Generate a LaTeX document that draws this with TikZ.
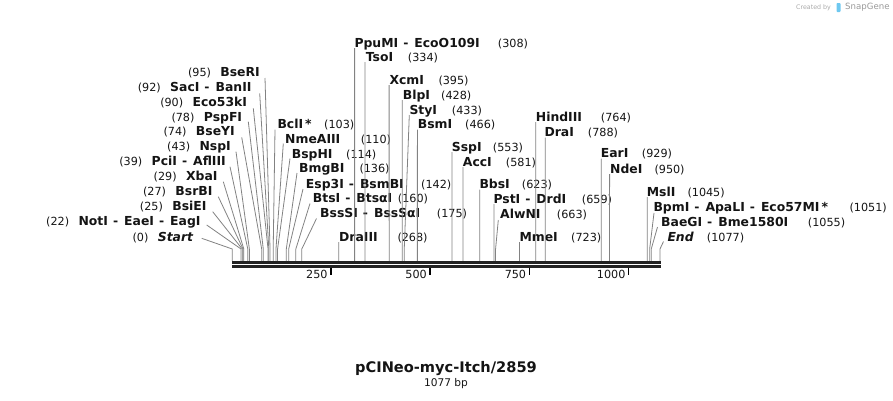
\documentclass[tikz,border=0pt]{standalone}
\usepackage{fontspec}
\setmainfont{DejaVu Sans}
\definecolor{linegray}{RGB}{130,130,130}
\definecolor{bardark}{RGB}{34,34,34}
\definecolor{txt}{RGB}{20,20,20}
\definecolor{wmgray}{RGB}{170,170,170}
\definecolor{wmblue}{RGB}{110,200,240}
\newcommand\dsh{\hspace{5pt}-\hspace{6pt}}
\tikzset{
  nm/.style={font=\bfseries\fontsize{12.4}{14}\selectfont, inner sep=0pt, text=txt},
  num/.style={font=\fontsize{11.2}{13}\selectfont, inner sep=0pt, text=txt},
  cutline/.style={draw=linegray, line width=0.8pt},
  barline/.style={draw=bardark, line width=2.7pt},
  tickline/.style={draw=black, line width=1.6pt},
  ticklab/.style={font=\fontsize{11.2}{13}\selectfont, inner sep=0pt, anchor=base east, text=txt}
}
\newcommand\lcut[8]{%
  \pgfmathsetmacro\cx{232.3+0.3971*#2}%
  \node[nm,anchor=base east] (#1) at (#3,#4+4.5) {#5};
  \node[num,anchor=base east] (#1n) at ([xshift=-9pt]#1.base west) {#6};
  \coordinate (#1a) at (#7,#8);
  \coordinate (#1b) at (\cx,249);
  \coordinate (#1c) at (\cx,261);
  \draw[cutline] (#1a) -- (#1b) -- (#1c);
}
\newcommand\rcut[9]{%
  \pgfmathsetmacro\cx{232.3+0.3971*#2}%
  \node[nm,anchor=base west] (#1) at (#3,#4+4.5) {#5};
  \node[num,anchor=base west] (#1n) at (#6,#4+4.5) {#7};
  \coordinate (#1a) at (#8,#9);
  \coordinate (#1b) at (\cx,249);
  \coordinate (#1c) at (\cx,261);
  \draw[cutline] (#1a) -- (#1b) -- (#1c);
}
\newcommand\rtick[1]{%
  \pgfmathsetmacro\tx{232.3+0.3971*#1-0.8}%
  \coordinate (t#1a) at (\tx,267.5);
  \coordinate (t#1b) at (\tx,275);
  \draw[tickline] (t#1a) -- (t#1b);
  \node[ticklab] (tl#1) at (\tx-3,278.5) {#1};
}
\begin{document}
\begin{tikzpicture}[x=1pt,y=-1pt]
\useasboundingbox (0,0) rectangle (893,400);
% left labels
\lcut{bseri}{95}{260}{72.3}{BseRI}{(95)}{265}{78}
\lcut{saci}{92}{251.7}{86.7}{SacI\dsh BanII}{(92)}{259.7}{93.3}
\lcut{ecofl}{90}{247.3}{101.7}{Eco53kI}{(90)}{253.3}{108.3}
\lcut{pspfi}{78}{242.3}{116.7}{PspFI}{(78)}{248.3}{121.7}
\lcut{bseyi}{74}{235}{131.3}{BseYI}{(74)}{241.7}{137.3}
\lcut{nspi}{43}{231}{146}{NspI}{(43)}{236}{151.7}
\lcut{pcii}{39}{226}{161}{PciI\dsh AflIII}{(39)}{230}{166.7}
\lcut{xbai}{29}{217.7}{176}{XbaI}{(29)}{223.3}{181.7}
\lcut{bsrbi}{27}{212.7}{191}{BsrBI}{(27)}{218.3}{196.7}
\lcut{bsiei}{25}{206.7}{206}{BsiEI}{(25)}{212.7}{211.7}
\lcut{noti}{22}{200.7}{221}{NotI\dsh EaeI\dsh EagI}{(22)}{206.7}{225}
\lcut{start}{0}{193.3}{236.7}{\itshape Start}{(0)}{201.7}{238.3}
% right labels
\rcut{bcli}{103}{277.3}{124.3}{BclI\,*}{324}{(103)}{275}{129.5}
\rcut{nme}{110}{285}{139}{NmeAIII}{360.7}{(110)}{283.3}{143.5}
\rcut{bsphi}{114}{291.7}{154}{BspHI}{346}{(114)}{290}{158.5}
\rcut{bmgbi}{136}{299}{168.3}{BmgBI}{359.3}{(136)}{297}{173}
\rcut{espi}{142}{305.7}{184.3}{Esp3I\dsh BsmBI}{421}{(142)}{303}{189}
\rcut{btsi}{160}{312.7}{198.3}{BtsI\dsh BtsαI}{397.7}{(160)}{310}{203.5}
\rcut{bsssi}{175}{320}{213.3}{BssSI\dsh BssSαI}{436.7}{(175)}{316.5}{218.5}
\rcut{draiii}{268}{339}{236.7}{DraIII}{397.3}{(268)}{338.7}{242}
\rcut{ppumi}{308}{354.3}{43.3}{PpuMI\dsh EcoO109I}{497.7}{(308)}{354.6}{48}
\rcut{tsoi}{334}{365.7}{57.3}{TsoI}{407.7}{(334)}{364.9}{62}
\rcut{xcmi}{395}{389.3}{80}{XcmI}{438.3}{(395)}{389.1}{85}
\rcut{blpi}{428}{402.7}{95}{BlpI}{441}{(428)}{402.3}{100}
\rcut{styi}{433}{409.3}{110}{StyI}{451.7}{(433)}{409.3}{115}
\rcut{bsmi}{466}{417.7}{124.3}{BsmI}{465}{(466)}{417.4}{129.5}
\rcut{sspi}{553}{451.7}{146.7}{SspI}{492.7}{(553)}{451.9}{152}
\rcut{acci}{581}{462.7}{161.7}{AccI}{505.7}{(581)}{463}{167}
\rcut{bbsi}{623}{479.3}{184.3}{BbsI}{521.7}{(623)}{479.7}{189.5}
\rcut{psti}{659}{493.3}{199}{PstI\dsh DrdI}{581.7}{(659)}{494}{204}
\rcut{alwni}{663}{500}{214.3}{AlwNI}{556.7}{(663)}{498.3}{220}
\rcut{mmei}{723}{519.3}{236.7}{MmeI}{571}{(723)}{519.4}{242}
\rcut{hind}{764}{535.7}{116.7}{HindIII}{600.7}{(764)}{535.7}{122}
\rcut{drai}{788}{544.3}{132.3}{DraI}{587.7}{(788)}{545.2}{137.5}
\rcut{eari}{929}{600.7}{153.3}{EarI}{641.7}{(929)}{601.2}{158.5}
\rcut{ndei}{950}{610}{169}{NdeI}{654.3}{(950)}{609.6}{174}
\rcut{msli}{1045}{646.7}{191.7}{MslI}{687.3}{(1045)}{647.3}{197}
\rcut{bpmi}{1051}{653.3}{207}{BpmI\dsh ApaLI\dsh Eco57MI\,*}{849.3}{(1051)}{654}{213}
\rcut{baegi}{1055}{661}{222}{BaeGI\dsh Bme1580I}{807.7}{(1055)}{657.5}{227}
\rcut{endl}{1077}{667.3}{237}{\itshape End}{706.7}{(1077)}{663.5}{241.5}
% sequence bar
\coordinate (b1l) at (232,262.7);
\coordinate (b1r) at (660.5,262.7);
\coordinate (b2l) at (232,266.7);
\coordinate (b2r) at (660.5,266.7);
\draw[barline] (b1l) -- (b1r);
\draw[barline] (b2l) -- (b2r);
% ruler
\rtick{250}
\rtick{500}
\rtick{750}
\rtick{1000}
% title
\node[font=\bfseries\fontsize{14.6}{17}\selectfont, inner sep=0pt, text=txt] (title) at (446,369) {pCINeo-myc-Itch/2859};
\node[font=\fontsize{10.6}{12}\selectfont, inner sep=0pt, text=txt] (len) at (446,383.5) {1077 bp};
% watermark
\node[font=\fontsize{6.3}{7}\selectfont, inner sep=0pt, text=wmgray, anchor=west] (wm1) at (796,7.5) {Created by};
\fill[wmblue, rounded corners=0.8pt] (836.5,3) rectangle (840.5,12) coordinate (logo);
\node[font=\fontsize{8.6}{10}\selectfont, inner sep=0pt, text=wmgray!90!black, anchor=west] (wm2) at (845,7.5) {SnapGene};
\end{tikzpicture}
\end{document}
